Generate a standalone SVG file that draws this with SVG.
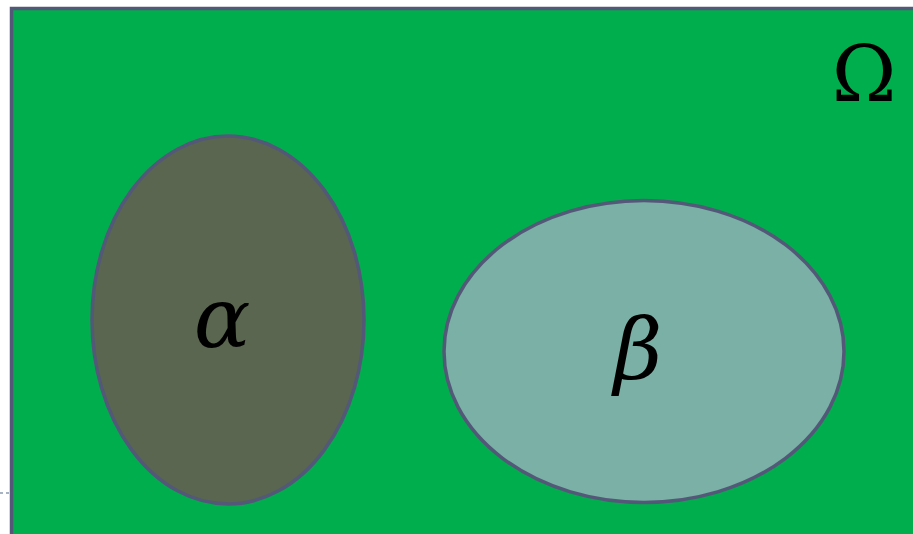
<svg xmlns="http://www.w3.org/2000/svg" width="913" height="534" viewBox="0 0 913 534">
<style>
.set{stroke:#535878;stroke-width:3.5}
.lbl{font-family:"DejaVu Serif","Liberation Serif",serif;fill:#000}
.it{font-style:italic}
</style>
<rect width="913" height="534" fill="#ffffff"/>
<g id="omega">
<rect class="set" x="11.5" y="8.5" width="910" height="540" fill="#00ae4d"/>
<text class="lbl" x="864" y="101" font-size="78" text-anchor="middle">Ω</text>
</g>
<g id="connectors">
<line x1="0" y1="493" x2="10" y2="493" stroke="#8a9ab0" stroke-width="1.5" stroke-dasharray="3,3"/>
</g>
<g id="alpha">
<ellipse class="set" cx="228" cy="320" rx="136" ry="184" fill="#5a6650"/>
<text class="lbl it" x="222" y="347" font-size="84" text-anchor="middle">α</text>
</g>
<g id="beta">
<ellipse class="set" cx="644" cy="351.5" rx="200" ry="151" fill="#7ab0a5"/>
<text class="lbl it" x="638" y="378" font-size="84" text-anchor="middle">β</text>
</g>
</svg>
